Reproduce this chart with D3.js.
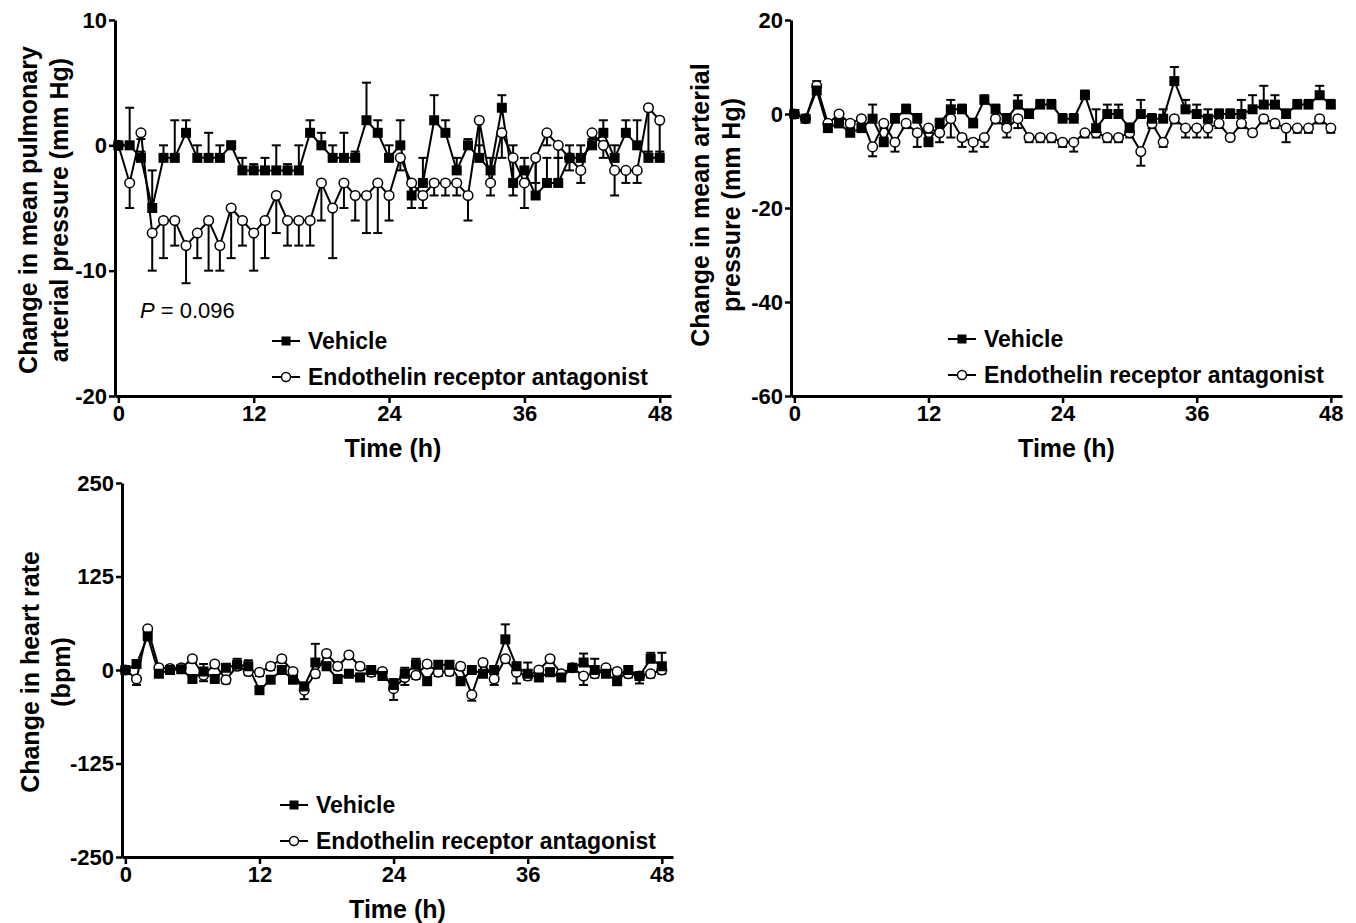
<!DOCTYPE html>
<html>
<head>
<meta charset="utf-8">
<script src="https://cdn.jsdelivr.net/npm/d3@7"></script>
<style>
  html, body { margin: 0; padding: 0; background: #fff; }
  svg { display: block; font-family: "Liberation Sans", Arial, sans-serif; }
  .tick text { font-weight: bold; }
</style>
</head>
<body>
<svg id="chart" width="1356" height="923"></svg>
<script>
// Hourly time points 0..48 h
const hours = d3.range(0, 49);
const xTicks = [0, 12, 24, 36, 48];

// Panel A: mean pulmonary arterial pressure (mm Hg)
const mpapVehicle = [0, 0, -1, -5, -1, -1, 1, -1, -1, -1, 0, -2, -2, -2, -2, -2, -2, 1, 0, -1, -1, -1, 2, 1, -1,
                     0, -4, -3, 2, 1, -2, 0, -1, -2, 3, -3, -2, -4, -3, -3, -1, -1, 0, 1, -1, 1, 0, -1, -1];
const mpapVehicleErr = [0, 3, 0.5, 3, 1, 3, 1, 1, 2, 1, 0.3, 1, 0.5, 1, 2, 0.5, 2, 1, 1, 1, 2, 0.5, 3, 1, 1,
                        2, 1, 2, 2, 1, 1, 0.5, 1, 1, 1, 3, 1, 3, 2, 2, 1, 1, 0.5, 1, 1, 1, 2, 0.5, 0.5];
const mpapEra = [0, -3, 1, -7, -6, -6, -8, -7, -6, -8, -5, -6, -7, -6, -4, -6, -6, -6, -3, -5, -3, -4, -4, -3, -4,
                 -1, -3, -4, -3, -3, -3, -4, 2, -3, 1, -1, -3, -1, 1, 0, -1, -2, 1, 0, -2, -2, -2, 3, 2];
const mpapEraErr = [0, 2, 0.5, 3, 3, 2, 3, 2, 4, 2, 4, 2, 3, 3, 3, 2, 2, 2, 3, 4, 2, 2, 3, 4, 2,
                    1, 2, 1, 1, 1, 1, 2, 3, 1, 2, 3, 2, 2, 1, 1, 1, 1, 1, 1, 2, 1, 1, 4, 3];

// Panel B: mean arterial pressure (mm Hg)
const mapVehicle = [0, -1, 5, -3, -2, -4, -3, -1, -6, -1, 1, -1, -6, -2, 1, 1, -2, 3, 1, -1, 2, 0, 2, 2, -1,
                    -1, 4, -3, 0, 0, -3, 0, -1, -1, 7, 1, 0, -1, 0, 0, 0, 1, 2, 2, 0, 2, 2, 4, 2];
const mapVehicleErr = [0, 0.5, 2, 1, 1, 1, 1, 3, 1, 1, 1, 1, 1, 1, 2, 1, 1, 1, 1, 1, 2, 1, 1, 1, 1,
                       1, 1, 4, 2, 2, 1, 3, 1, 2, 3, 2, 2, 2, 1, 1, 3, 3, 4, 2, 1, 1, 1, 2, 1];
const mapEra = [0, -1, 6, -2, 0, -2, -1, -7, -2, -6, -2, -4, -3, -4, -1, -5, -6, -5, -1, -3, -1, -5, -5, -5, -6,
                -6, -4, -4, -5, -5, -4, -8, -2, -6, -1, -3, -3, -3, -2, -5, -2, -4, -1, -2, -3, -3, -3, -1, -3];
const mapEraErr = [0, 0.5, 1, 1, 1, 1, 1, 2, 1, 2, 1, 3, 1, 2, 4, 2, 2, 2, 1, 2, 2, 1, 1, 1, 1,
                   2, 1, 1, 1, 1, 1, 3, 1, 1, 1, 2, 2, 2, 1, 0.5, 1, 0.5, 1, 1, 3, 1, 1, 1, 1];

// Panel C: heart rate (bpm)
const hrVehicle = [0, 8, 45, -5, 0, 1, -12, -2, -12, 3, 7, 5, -27, -13, 0, -13, -22, 10, 5, -12, -5, -10, 0, -8, -20,
                   -5, 7, -15, 7, 7, -15, 0, -5, 0, 41, 5, -5, -10, -3, -10, 3, 10, 0, -5, -15, 0, -8, 15, 5];
const hrVehicleErr = [0, 5, 8, 5, 5, 5, 5, 10, 5, 5, 8, 8, 5, 5, 5, 5, 5, 25, 5, 5, 5, 5, 5, 5, 8,
                      8, 8, 5, 5, 5, 5, 5, 5, 5, 20, 5, 15, 5, 5, 5, 5, 12, 15, 5, 5, 5, 5, 8, 18];
const hrEra = [0, -12, 55, 3, 2, 3, 15, -7, 8, -13, 5, -2, -3, 5, 15, -2, -27, -5, 22, 5, 20, 5, -3, -2, -25,
               -10, -7, 8, -3, -2, 5, -33, 10, -12, 15, -3, -8, 0, 15, -5, 3, -8, -5, 3, -2, -5, -8, -5, 0];
const hrEraErr = [0, 8, 5, 5, 5, 5, 5, 8, 5, 5, 5, 5, 5, 5, 5, 5, 12, 5, 5, 5, 5, 5, 5, 5, 15,
                  10, 5, 5, 5, 5, 5, 8, 5, 8, 5, 15, 5, 5, 5, 5, 5, 12, 5, 5, 5, 5, 10, 5, 5];

const seriesNames = ["Vehicle", "Endothelin receptor antagonist"];

const svg = d3.select("#chart");
const plainNum = d => String(d);   // plain hyphen minus, like the original

function drawPanel(p) {
    const x = d3.scaleLinear().domain([-0.3, 49]).range([p.left, p.right]);
    const y = d3.scaleLinear().domain(p.yDomain).range([p.bottom, p.top]);
    const g = svg.append("g");

    // axes
    g.append("g")
        .attr("transform", `translate(0,${p.bottom})`)
        .call(d3.axisBottom(x).tickValues(xTicks).tickFormat(plainNum).tickSize(7).tickPadding(2).tickSizeOuter(0))
        .call(a => a.select(".domain").attr("stroke-width", 3))
        .call(a => a.selectAll(".tick line").attr("stroke-width", 2.5))
        .call(a => a.selectAll(".tick text").attr("font-size", 22).attr("fill", "#000"));
    g.append("g")
        .attr("transform", `translate(${p.left},0)`)
        .call(d3.axisLeft(y).tickValues(p.yTicks).tickFormat(plainNum).tickSize(6).tickPadding(2).tickSizeOuter(0))
        .call(a => a.select(".domain").attr("stroke-width", 3))
        .call(a => a.selectAll(".tick line").attr("stroke-width", 2.5))
        .call(a => a.selectAll(".tick text").attr("font-size", 22).attr("fill", "#000"));

    // axis titles
    g.append("text")
        .attr("x", (p.left + p.right) / 2).attr("y", p.bottom + 61)
        .attr("text-anchor", "middle").attr("font-size", 25).attr("font-weight", "bold")
        .text("Time (h)");
    const yl = g.append("text")
        .attr("transform", `translate(${p.yLabelX},${p.yLabelY}) rotate(-90)`)
        .attr("text-anchor", "middle").attr("font-size", 25).attr("font-weight", "bold");
    p.yLabel.forEach((t, i) => yl.append("tspan").attr("x", 0).attr("dy", i === 0 ? 0 : 31).text(t));

    const vData = hours.map((h, i) => ({ h, v: p.vehicle[i], e: p.vehicleErr[i] }));
    const aData = hours.map((h, i) => ({ h, v: p.era[i], e: p.eraErr[i] }));
    const line = d3.line().x(d => x(d.h)).y(d => y(d.v));

    // error bars: vehicle above, antagonist below
    function errBars(data, dir) {
        const eg = g.append("g").attr("stroke", "#000").attr("stroke-width", 2);
        data.forEach(d => {
            if (!d.e) return;
            const y0 = y(d.v), y1 = y(d.v + dir * d.e);
            eg.append("line").attr("x1", x(d.h)).attr("x2", x(d.h)).attr("y1", y0).attr("y2", y1);
            eg.append("line").attr("x1", x(d.h) - 4.5).attr("x2", x(d.h) + 4.5).attr("y1", y1).attr("y2", y1);
        });
    }
    errBars(vData, 1);
    errBars(aData, -1);

    g.append("path").datum(vData).attr("d", line)
        .attr("fill", "none").attr("stroke", "#000").attr("stroke-width", 2);
    g.append("path").datum(aData).attr("d", line)
        .attr("fill", "none").attr("stroke", "#000").attr("stroke-width", 2);

    g.append("g").selectAll("circle").data(aData).join("circle")
        .attr("cx", d => x(d.h)).attr("cy", d => y(d.v)).attr("r", 4.8)
        .attr("fill", "#fff").attr("stroke", "#000").attr("stroke-width", 1.5);
    g.append("g").selectAll("rect").data(vData).join("rect")
        .attr("x", d => x(d.h) - 5).attr("y", d => y(d.v) - 5)
        .attr("width", 10).attr("height", 10).attr("fill", "#000");

    // legend
    const lg = g.append("g").attr("transform", `translate(${p.legendX},${p.legendY})`);
    seriesNames.forEach((name, i) => {
        const ly = i * 36;
        lg.append("line").attr("x1", 0).attr("x2", 28).attr("y1", ly).attr("y2", ly)
            .attr("stroke", "#000").attr("stroke-width", 2);
        if (i === 0) {
            lg.append("rect").attr("x", 9.5).attr("y", ly - 4.5).attr("width", 9).attr("height", 9).attr("fill", "#000");
        } else {
            lg.append("circle").attr("cx", 14).attr("cy", ly).attr("r", 4.5)
                .attr("fill", "#fff").attr("stroke", "#000").attr("stroke-width", 1.5);
        }
        lg.append("text").attr("x", 36).attr("y", ly).attr("dy", "0.35em")
            .attr("font-size", 23).attr("font-weight", "bold").text(name);
    });
    return g;
}

const gA = drawPanel({
    left: 115, right: 671, top: 20, bottom: 396,
    yDomain: [-20, 10], yTicks: [-20, -10, 0, 10],
    yLabel: ["Change in mean pulmonary", "arterial pressure (mm Hg)"], yLabelX: 37, yLabelY: 210,
    vehicle: mpapVehicle, vehicleErr: mpapVehicleErr, era: mpapEra, eraErr: mpapEraErr,
    legendX: 272, legendY: 341
});
gA.append("text").attr("x", 140).attr("y", 318).attr("font-size", 22)
    .call(t => t.append("tspan").attr("font-style", "italic").text("P"))
    .call(t => t.append("tspan").text(" = 0.096"));

drawPanel({
    left: 791, right: 1342, top: 20, bottom: 396,
    yDomain: [-60, 20], yTicks: [-60, -40, -20, 0, 20],
    yLabel: ["Change in mean arterial", "pressure (mm Hg)"], yLabelX: 709, yLabelY: 205,
    vehicle: mapVehicle, vehicleErr: mapVehicleErr, era: mapEra, eraErr: mapEraErr,
    legendX: 948, legendY: 339
});

drawPanel({
    left: 122, right: 673, top: 483, bottom: 857,
    yDomain: [-250, 250], yTicks: [-250, -125, 0, 125, 250],
    yLabel: ["Change in heart rate", "(bpm)"], yLabelX: 39, yLabelY: 672,
    vehicle: hrVehicle, vehicleErr: hrVehicleErr, era: hrEra, eraErr: hrEraErr,
    legendX: 280, legendY: 805
});
</script>
</body>
</html>
